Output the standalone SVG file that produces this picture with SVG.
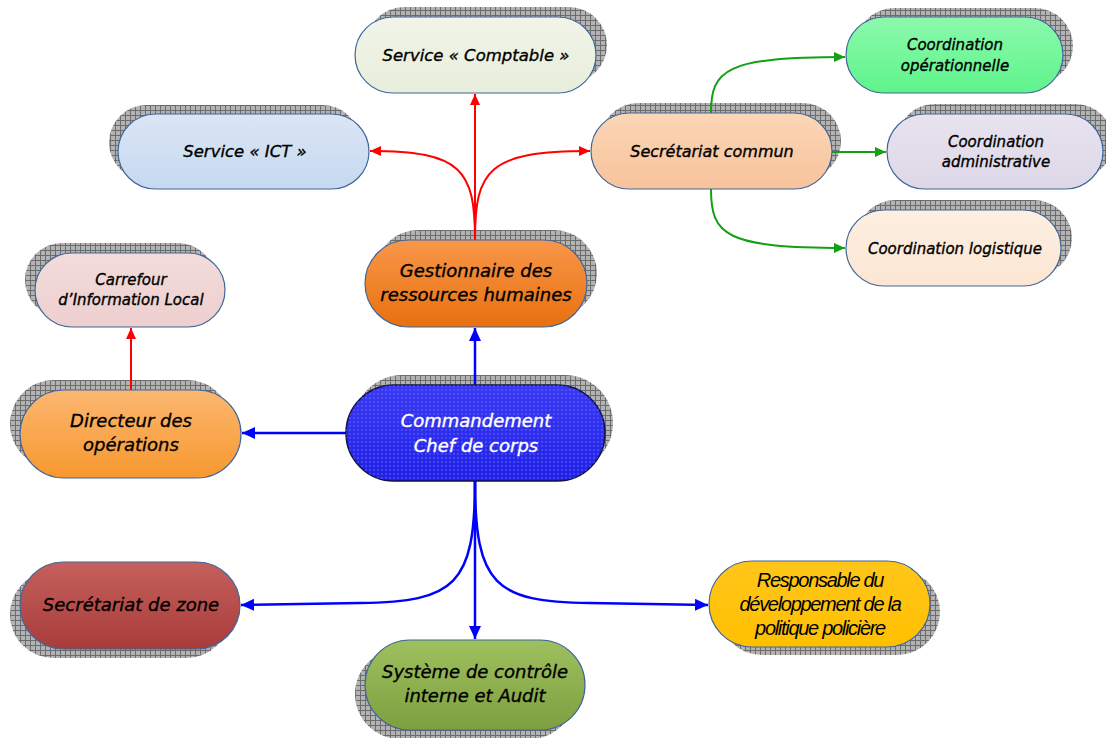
<svg xmlns="http://www.w3.org/2000/svg" width="1106" height="738" viewBox="0 0 1106 738">
<defs>
<pattern id="grid" width="5" height="5" patternUnits="userSpaceOnUse">
<rect width="5" height="5" fill="#ababab"/>
<path d="M0,0.5 H5 M0.5,0 V5" stroke="#5c5c5c" stroke-width="1"/>
</pattern>
<pattern id="dots" width="4" height="4" patternUnits="userSpaceOnUse">
<rect x="1" y="1" width="2" height="2" fill="#6a6aff" opacity="0.45"/>
</pattern>
<linearGradient id="gComptable" x1="0" y1="0" x2="0" y2="1"><stop offset="0" stop-color="#f1f4e8"/><stop offset="1" stop-color="#e8eedb"/></linearGradient>
<linearGradient id="gICT" x1="0" y1="0" x2="0" y2="1"><stop offset="0" stop-color="#dbe6f5"/><stop offset="1" stop-color="#c6d9f0"/></linearGradient>
<linearGradient id="gSecCom" x1="0" y1="0" x2="0" y2="1"><stop offset="0" stop-color="#fbd6b6"/><stop offset="1" stop-color="#f8c39c"/></linearGradient>
<linearGradient id="gOp" x1="0" y1="0" x2="0" y2="1"><stop offset="0" stop-color="#8cf9ad"/><stop offset="1" stop-color="#5ef48b"/></linearGradient>
<linearGradient id="gAdm" x1="0" y1="0" x2="0" y2="1"><stop offset="0" stop-color="#e8e3ef"/><stop offset="1" stop-color="#ddd7e8"/></linearGradient>
<linearGradient id="gLog" x1="0" y1="0" x2="0" y2="1"><stop offset="0" stop-color="#fdefe2"/><stop offset="1" stop-color="#fce6d3"/></linearGradient>
<linearGradient id="gGest" x1="0" y1="0" x2="0" y2="1"><stop offset="0" stop-color="#f8974a"/><stop offset="1" stop-color="#e8700e"/></linearGradient>
<linearGradient id="gCarr" x1="0" y1="0" x2="0" y2="1"><stop offset="0" stop-color="#f2dcdb"/><stop offset="1" stop-color="#edcfce"/></linearGradient>
<linearGradient id="gDir" x1="0" y1="0" x2="0" y2="1"><stop offset="0" stop-color="#fbb771"/><stop offset="1" stop-color="#f7982f"/></linearGradient>
<linearGradient id="gCmd" x1="0" y1="0" x2="0" y2="1"><stop offset="0" stop-color="#3a3af4"/><stop offset="1" stop-color="#2020e6"/></linearGradient>
<linearGradient id="gZone" x1="0" y1="0" x2="0" y2="1"><stop offset="0" stop-color="#c5605d"/><stop offset="1" stop-color="#a83c3a"/></linearGradient>
<linearGradient id="gSys" x1="0" y1="0" x2="0" y2="1"><stop offset="0" stop-color="#9fc05e"/><stop offset="1" stop-color="#7e9f3f"/></linearGradient>
<linearGradient id="gResp" x1="0" y1="0" x2="0" y2="1"><stop offset="0" stop-color="#ffc61a"/><stop offset="1" stop-color="#ffc000"/></linearGradient>
<marker id="aBlue" markerUnits="userSpaceOnUse" markerWidth="14" markerHeight="12" refX="13" refY="6" orient="auto"><path d="M0,0 L13,6 L0,12 z" fill="#0000ff"/></marker>
<marker id="aRed" markerUnits="userSpaceOnUse" markerWidth="12" markerHeight="10" refX="11" refY="5" orient="auto"><path d="M0,0 L11,5 L0,10 z" fill="#ff0000"/></marker>
<marker id="aGreen" markerUnits="userSpaceOnUse" markerWidth="12" markerHeight="10" refX="11" refY="5" orient="auto"><path d="M0,0 L11,5 L0,10 z" fill="#14a014"/></marker>
</defs>
<style>
.sh{fill:url(#grid);opacity:0.9}
.nd{stroke:#41679a;stroke-width:1.2}
.t{font-family:"Comic Sans MS","DejaVu Sans",sans-serif;font-style:italic;fill:#000;stroke:#000;stroke-width:0.35;text-anchor:middle}
.tw{fill:#fff;stroke:#fff}
.tr{font-family:"Liberation Sans",Arial,sans-serif;font-style:italic;fill:#000;text-anchor:middle;letter-spacing:-1.3px}
.cb{fill:none;stroke:#0000ff;stroke-width:2.5}
.cr{fill:none;stroke:#ff0000;stroke-width:2}
.cg{fill:none;stroke:#14a014;stroke-width:2}
</style>
<rect width="1106" height="738" fill="#ffffff"/>

<g id="shadows">
<rect class="sh" x="366" y="7" width="241" height="76" rx="38"/>
<rect class="sh" x="109" y="105" width="251" height="75" rx="37.5"/>
<rect class="sh" x="600" y="103" width="241" height="76" rx="38"/>
<rect class="sh" x="856" y="8" width="217" height="76" rx="38"/>
<rect class="sh" x="897" y="104" width="216" height="75" rx="37.5"/>
<rect class="sh" x="857" y="200" width="215" height="76" rx="38"/>
<rect class="sh" x="375" y="230" width="222" height="87" rx="43.5"/>
<rect class="sh" x="25" y="243" width="190" height="74" rx="37"/>
<rect class="sh" x="10" y="380" width="221" height="88" rx="44"/>
<rect class="sh" x="354" y="375" width="259" height="96" rx="48"/>
<rect class="sh" x="10" y="571" width="220" height="87" rx="43.5"/>
<rect class="sh" x="355" y="649" width="220" height="90" rx="45"/>
<rect class="sh" x="719" y="569" width="221" height="86" rx="43"/>
</g>

<g id="connectors">
<path class="cb" d="M475,385 L475,328" marker-end="url(#aBlue)"/>
<path class="cb" d="M346,433 L242,433" marker-end="url(#aBlue)"/>
<path class="cb" d="M475,481 L475,639" marker-end="url(#aBlue)"/>
<path class="cb" d="M475,481 C475,585 455,602 360,603 L241,605" marker-end="url(#aBlue)"/>
<path class="cb" d="M475,481 C475,585 495,602 590,603 L708,605" marker-end="url(#aBlue)"/>
<path class="cr" d="M475,240 L475,94" marker-end="url(#aRed)"/>
<path class="cr" d="M475,240 C475,170 462,151 370,151" marker-end="url(#aRed)"/>
<path class="cr" d="M475,240 C475,170 488,151 590,151" marker-end="url(#aRed)"/>
<path class="cr" d="M131,390 L131,328" marker-end="url(#aRed)"/>
<path class="cg" d="M711,113 C711,70 725,57 845,57" marker-end="url(#aGreen)"/>
<path class="cg" d="M832,152 L886,152" marker-end="url(#aGreen)"/>
<path class="cg" d="M711,189 C711,235 725,248 845,248" marker-end="url(#aGreen)"/>
</g>

<g id="n-comptable">
<rect class="nd" x="355" y="17" width="241" height="76" rx="38" fill="url(#gComptable)"/>
<text class="t" x="476" y="61" font-size="16.5">Service « Comptable »</text>
</g>
<g id="n-ict">
<rect class="nd" x="118" y="114" width="251" height="75" rx="37.5" fill="url(#gICT)"/>
<text class="t" x="245" y="157" font-size="16.5">Service « ICT »</text>
</g>
<g id="n-seccommun">
<rect class="nd" x="591" y="113" width="241" height="76" rx="38" fill="url(#gSecCom)"/>
<text class="t" x="712" y="157" font-size="16">Secrétariat commun</text>
</g>
<g id="n-coordop">
<rect class="nd" x="846" y="17" width="217" height="76" rx="38" fill="url(#gOp)"/>
<text class="t" x="955" y="50" font-size="15">Coordination</text>
<text class="t" x="955" y="71" font-size="15">opérationnelle</text>
</g>
<g id="n-coordadmin">
<rect class="nd" x="887" y="114" width="216" height="75" rx="37.5" fill="url(#gAdm)"/>
<text class="t" x="996" y="147" font-size="15">Coordination</text>
<text class="t" x="996" y="167" font-size="15">administrative</text>
</g>
<g id="n-coordlog">
<rect class="nd" x="846" y="210" width="215" height="76" rx="38" fill="url(#gLog)"/>
<text class="t" x="955" y="254" font-size="15">Coordination logistique</text>
</g>
<g id="n-gestionnaire">
<rect class="nd" x="365" y="240" width="222" height="87" rx="43.5" fill="url(#gGest)"/>
<text class="t" x="476" y="277" font-size="18">Gestionnaire des</text>
<text class="t" x="476" y="301" font-size="18">ressources humaines</text>
</g>
<g id="n-carrefour">
<rect class="nd" x="35" y="253" width="190" height="74" rx="37" fill="url(#gCarr)"/>
<text class="t" x="131" y="285" font-size="15">Carrefour</text>
<text class="t" x="131" y="305" font-size="15">d’Information Local</text>
</g>
<g id="n-directeur">
<rect class="nd" x="20" y="390" width="221" height="88" rx="44" fill="url(#gDir)"/>
<text class="t" x="131" y="427" font-size="18">Directeur des</text>
<text class="t" x="131" y="451" font-size="18">opérations</text>
</g>
<g id="n-commandement">
<rect x="346" y="385" width="259" height="96" rx="48" fill="url(#gCmd)" stroke="#10104a" stroke-width="1.5"/>
<rect x="346" y="385" width="259" height="96" rx="48" fill="url(#dots)"/>
<text class="t tw" x="476" y="427" font-size="18">Commandement</text>
<text class="t tw" x="476" y="452" font-size="18">Chef de corps</text>
</g>
<g id="n-seczone">
<rect class="nd" x="20" y="562" width="220" height="87" rx="43.5" fill="url(#gZone)"/>
<text class="t" x="131" y="611" font-size="18">Secrétariat de zone</text>
</g>
<g id="n-systeme">
<rect class="nd" x="365" y="640" width="220" height="90" rx="45" fill="url(#gSys)"/>
<text class="t" x="475" y="678" font-size="18">Système de contrôle</text>
<text class="t" x="475" y="702" font-size="18">interne et Audit</text>
</g>
<g id="n-responsable">
<rect class="nd" x="709" y="561" width="221" height="86" rx="43" fill="url(#gResp)"/>
<text class="tr" x="820" y="587" font-size="20">Responsable du</text>
<text class="tr" x="820" y="611" font-size="20">développement de la</text>
<text class="tr" x="820" y="635" font-size="20">politique policière</text>
</g>
</svg>
